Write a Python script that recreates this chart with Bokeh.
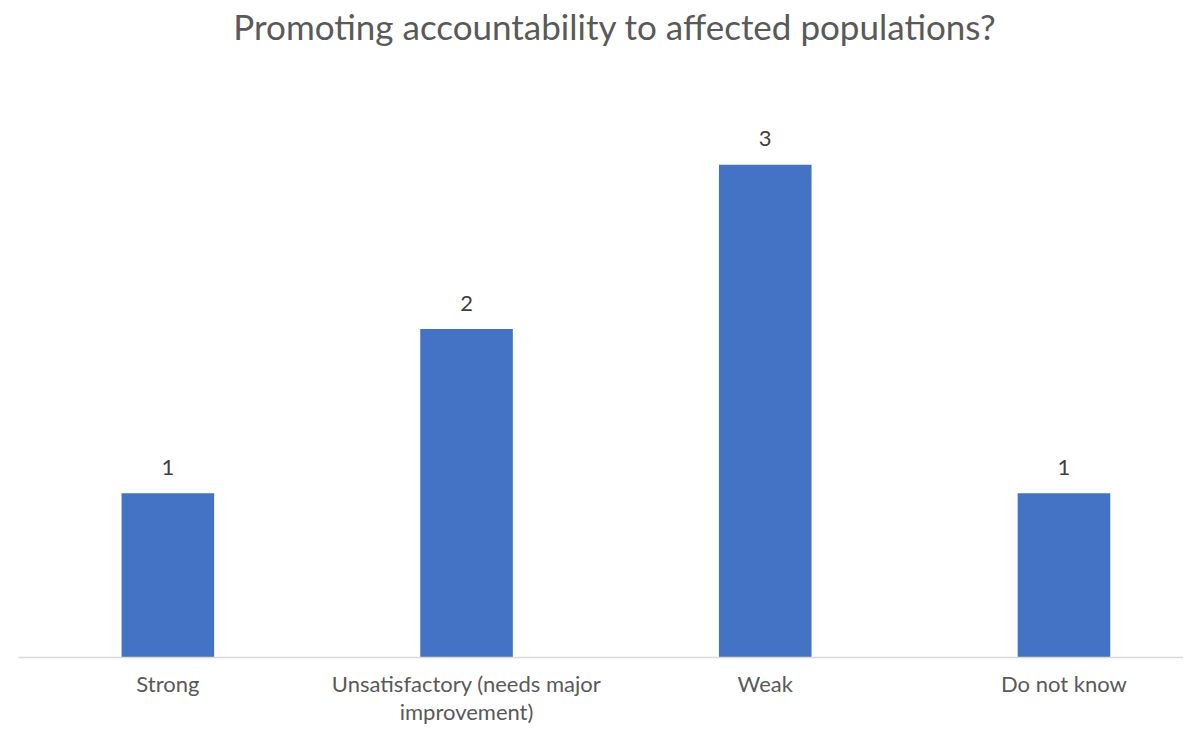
from bokeh.plotting import figure
from bokeh.models import Range1d, FixedTicker, ColumnDataSource, Label
from bokeh.core.properties import value
from bokeh.embed import file_html
from bokeh.resources import INLINE

title_text = "Promoting accountability to affected populations?"
categories = ["Strong", "Unsatisfactory (needs major\nimprovement)", "Weak", "Do not know"]
counts = [1, 2, 3, 1]

FONT = "Lato"
xs = list(range(len(categories)))
src = ColumnDataSource(dict(x=xs, y=counts, lbl=[str(c) for c in counts]))

p = figure(width=1183, height=727, output_backend="svg", toolbar_location=None,
           x_range=Range1d(-0.5, -0.5 + 1165 / 298.7), y_range=Range1d(0, 4),
           min_border_left=18, min_border_right=0, min_border_top=0, min_border_bottom=0)

p.vbar(x="x", top="y", width=0.31, bottom=0, source=src, fill_color="#4472C4", line_color=None)
p.text(x="x", y="y", text="lbl", source=src, text_align="center", text_baseline="alphabetic",
       y_offset=-26, text_font=value(FONT), text_font_size="22px", text_color="#404040")

# chart title (placed relative to the plot frame)
p.add_layout(Label(x=596.5, y=632, x_units="screen", y_units="screen", text=title_text,
                   text_align="center", text_baseline="middle", text_font=FONT,
                   text_font_size="35px", text_color="#595959"))

p.yaxis.visible = False
p.xgrid.visible = False
p.ygrid.visible = False
p.outline_line_color = None
ax = p.xaxis[0]
ax.ticker = FixedTicker(ticks=xs)
ax.major_label_overrides = {i: c for i, c in enumerate(categories)}
ax.axis_line_color = "#d9d9d9"
ax.axis_line_width = 1.5
ax.major_tick_line_color = None
ax.minor_tick_line_color = None
ax.major_label_text_font = FONT
ax.major_label_text_font_size = "22px"
ax.major_label_text_line_height = 1.05
ax.major_label_text_color = "#595959"
ax.major_label_standoff = 6

open("out.html", "w").write(file_html(p, INLINE))
